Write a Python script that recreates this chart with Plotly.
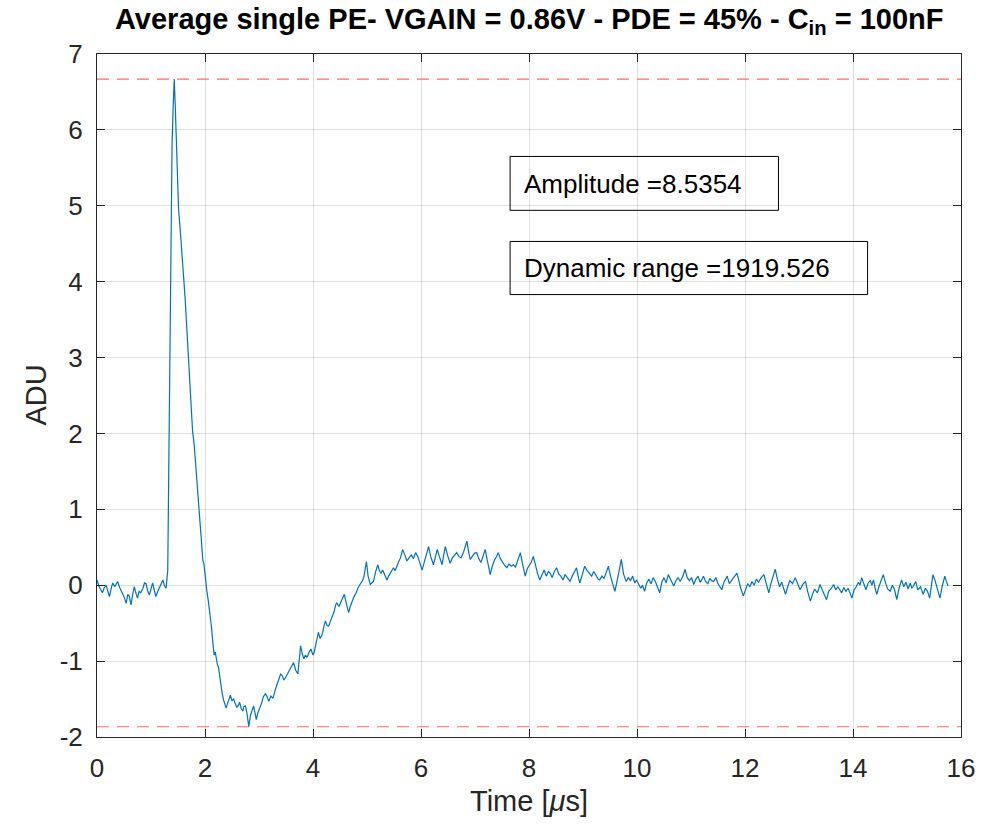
import plotly.graph_objects as go

# Time axis (microseconds) and averaged single-PE waveform (ADU)
time_us = [
    0.00, 0.02, 0.04, 0.07, 0.10, 0.13, 0.17, 0.20, 0.23, 0.26, 0.29, 0.33, 0.38, 0.42, 0.47, 0.51, 0.54, 0.57, 0.60, 0.63,
    0.66, 0.69, 0.72, 0.75, 0.78, 0.81, 0.85, 0.88, 0.91, 0.94, 0.97, 1.00, 1.03, 1.06, 1.09, 1.12, 1.15, 1.19, 1.22, 1.25,
    1.28, 1.31, 1.33, 1.35, 1.37, 1.39, 1.41, 1.43, 1.45, 1.47, 1.49, 1.51, 1.55, 1.585, 1.61, 1.635, 1.66, 1.68, 1.71, 1.74,
    1.77, 1.80, 1.82, 1.85, 1.88, 1.90, 1.92, 1.94, 1.96, 1.98, 2.00, 2.03, 2.06, 2.08, 2.10, 2.12, 2.14, 2.17, 2.19, 2.21,
    2.23, 2.25, 2.27, 2.29, 2.31, 2.34, 2.37, 2.39, 2.42, 2.45, 2.47, 2.50, 2.53, 2.56, 2.59, 2.62, 2.64, 2.67, 2.70, 2.72,
    2.75, 2.78, 2.81, 2.84, 2.87, 2.90, 2.93, 2.95, 2.98, 3.02, 3.05, 3.08, 3.12, 3.15, 3.18, 3.22, 3.26, 3.30, 3.33, 3.36,
    3.40, 3.43, 3.46, 3.49, 3.53, 3.57, 3.60, 3.64, 3.68, 3.72, 3.75, 3.77, 3.80, 3.83, 3.86, 3.89, 3.93, 3.96, 4.00, 4.02,
    4.06, 4.10, 4.13, 4.17, 4.20, 4.23, 4.26, 4.29, 4.32, 4.35, 4.39, 4.42, 4.44, 4.48, 4.52, 4.55, 4.58, 4.62, 4.66, 4.69,
    4.72, 4.76, 4.80, 4.83, 4.87, 4.91, 4.94, 4.97, 4.99, 5.02, 5.06, 5.09, 5.12, 5.16, 5.20, 5.23, 5.26, 5.29, 5.32, 5.35,
    5.37, 5.40, 5.43, 5.46, 5.49, 5.52, 5.55, 5.58, 5.62, 5.66, 5.70, 5.74, 5.78, 5.82, 5.86, 5.90, 5.94, 5.98, 6.02, 6.06,
    6.10, 6.14, 6.18, 6.23, 6.27, 6.30, 6.34, 6.39, 6.42, 6.45, 6.49, 6.54, 6.58, 6.62, 6.66, 6.70, 6.74, 6.78, 6.82, 6.85,
    6.88, 6.91, 6.95, 6.99, 7.03, 7.07, 7.11, 7.15, 7.19, 7.23, 7.28, 7.32, 7.36, 7.40, 7.43, 7.47, 7.51, 7.55, 7.59, 7.63,
    7.67, 7.71, 7.75, 7.80, 7.84, 7.88, 7.93, 7.97, 8.01, 8.04, 8.08, 8.12, 8.16, 8.20, 8.24, 8.28, 8.32, 8.36, 8.39, 8.43,
    8.47, 8.51, 8.55, 8.59, 8.63, 8.67, 8.71, 8.76, 8.80, 8.84, 8.88, 8.91, 8.94, 8.98, 9.03, 9.07, 9.11, 9.16, 9.20, 9.24,
    9.28, 9.31, 9.35, 9.39, 9.43, 9.47, 9.51, 9.55, 9.59, 9.63, 9.67, 9.71, 9.75, 9.80, 9.84, 9.88, 9.92, 9.96, 9.99, 10.03,
    10.07, 10.10, 10.14, 10.18, 10.22, 10.26, 10.30, 10.34, 10.38, 10.42, 10.46, 10.50, 10.54, 10.58, 10.62, 10.65, 10.68, 10.72, 10.76, 10.80,
    10.85, 10.89, 10.93, 10.97, 11.01, 11.05, 11.09, 11.13, 11.17, 11.20, 11.23, 11.27, 11.31, 11.35, 11.38, 11.42, 11.46, 11.50, 11.54, 11.57,
    11.61, 11.64, 11.67, 11.71, 11.75, 11.79, 11.82, 11.85, 11.88, 11.92, 11.97, 12.01, 12.05, 12.09, 12.13, 12.17, 12.21, 12.25, 12.30, 12.35,
    12.39, 12.44, 12.48, 12.52, 12.56, 12.60, 12.64, 12.68, 12.72, 12.75, 12.79, 12.83, 12.88, 12.93, 12.97, 13.02, 13.07, 13.12, 13.16, 13.21,
    13.25, 13.29, 13.34, 13.39, 13.43, 13.47, 13.51, 13.55, 13.60, 13.64, 13.68, 13.72, 13.76, 13.79, 13.83, 13.87, 13.91, 13.95, 13.98, 14.02,
    14.06, 14.10, 14.13, 14.16, 14.20, 14.24, 14.28, 14.32, 14.35, 14.38, 14.41, 14.44, 14.48, 14.52, 14.56, 14.60, 14.64, 14.69, 14.73, 14.77,
    14.81, 14.85, 14.90, 14.94, 14.98, 15.02, 15.06, 15.09, 15.12, 15.16, 15.20, 15.25, 15.30, 15.34, 15.38, 15.42, 15.45, 15.48, 15.52, 15.56,
    15.61, 15.65, 15.70, 15.73, 15.76,
]

adu = [
    0.07, 0.02, -0.02, -0.06, -0.10, -0.04, 0.00, -0.08, -0.15, -0.05, 0.03, -0.02, 0.05, -0.03, -0.10, -0.17, -0.24, -0.12, -0.15, -0.26,
    -0.12, -0.02, -0.10, -0.17, -0.08, -0.10, -0.04, 0.03, 0.02, -0.08, -0.13, -0.05, 0.03, -0.06, -0.15, -0.09, -0.04, 0.02, 0.07, -0.01,
    -0.04, 0.19, 1.60, 3.20, 4.60, 5.80, 6.30, 6.67, 6.30, 5.90, 5.40, 4.96, 4.60, 4.31, 4.00, 3.74, 3.45, 3.17, 2.80, 2.38,
    2.03, 1.85, 1.65, 1.41, 1.10, 0.89, 0.65, 0.45, 0.33, 0.28, 0.12, -0.05, -0.20, -0.30, -0.38, -0.55, -0.72, -0.92, -0.88, -1.00,
    -1.05, -1.08, -1.20, -1.30, -1.39, -1.50, -1.58, -1.62, -1.55, -1.48, -1.45, -1.52, -1.50, -1.56, -1.61, -1.58, -1.54, -1.62, -1.66, -1.60,
    -1.59, -1.70, -1.865, -1.72, -1.64, -1.59, -1.70, -1.77, -1.68, -1.61, -1.55, -1.47, -1.43, -1.47, -1.53, -1.46, -1.49, -1.38, -1.32, -1.27,
    -1.17, -1.19, -1.25, -1.22, -1.16, -1.12, -1.07, -1.02, -1.12, -1.17, -0.95, -0.80, -0.90, -0.97, -0.92, -0.95, -0.88, -0.84, -0.92, -0.89,
    -0.75, -0.62, -0.70, -0.65, -0.55, -0.47, -0.53, -0.54, -0.48, -0.43, -0.35, -0.26, -0.23, -0.28, -0.21, -0.16, -0.12, -0.25, -0.36, -0.28,
    -0.21, -0.15, -0.10, -0.04, 0.01, 0.05, 0.10, 0.22, 0.31, 0.12, 0.01, 0.03, 0.05, 0.18, 0.27, 0.19, 0.16, 0.20, 0.15, 0.10,
    0.07, 0.12, 0.16, 0.20, 0.23, 0.19, 0.26, 0.30, 0.36, 0.47, 0.40, 0.32, 0.36, 0.40, 0.35, 0.43, 0.38, 0.28, 0.20, 0.30,
    0.42, 0.51, 0.38, 0.27, 0.38, 0.47, 0.38, 0.27, 0.40, 0.51, 0.40, 0.29, 0.36, 0.40, 0.43, 0.38, 0.36, 0.42, 0.50, 0.58,
    0.45, 0.34, 0.38, 0.42, 0.43, 0.35, 0.30, 0.40, 0.47, 0.32, 0.14, 0.25, 0.33, 0.38, 0.43, 0.35, 0.30, 0.26, 0.23, 0.28,
    0.25, 0.27, 0.24, 0.35, 0.43, 0.28, 0.12, 0.22, 0.27, 0.30, 0.38, 0.25, 0.15, 0.07, 0.14, 0.20, 0.12, 0.18, 0.16, 0.10,
    0.18, 0.23, 0.15, 0.12, 0.07, 0.14, 0.10, 0.05, 0.12, 0.18, 0.23, 0.12, 0.03, 0.12, 0.25, 0.20, 0.16, 0.12, 0.18, 0.13,
    0.08, 0.07, 0.12, 0.09, 0.17, 0.25, 0.12, 0.02, -0.08, 0.05, 0.18, 0.34, 0.15, 0.05, 0.10, 0.06, 0.12, 0.03, 0.07, 0.02,
    -0.04, 0.00, -0.08, 0.03, 0.08, 0.02, 0.10, 0.05, -0.02, -0.10, 0.04, 0.10, 0.03, 0.14, 0.08, 0.03, -0.01, 0.06, 0.10, 0.05,
    0.12, 0.21, 0.10, 0.06, 0.10, 0.01, 0.08, 0.12, 0.04, 0.07, 0.12, 0.05, 0.02, 0.09, 0.06, 0.05, 0.10, 0.02, -0.03, -0.06,
    0.04, 0.09, 0.12, 0.02, 0.06, 0.10, 0.13, 0.16, 0.08, -0.04, -0.14, -0.05, 0.02, -0.02, 0.05, 0.00, 0.08, 0.04, 0.10, 0.14,
    0.02, -0.10, 0.02, 0.12, 0.21, 0.08, -0.02, 0.04, -0.05, -0.12, -0.02, 0.06, 0.02, 0.10, 0.03, -0.06, 0.01, 0.05, -0.08, -0.21,
    -0.12, -0.05, -0.10, 0.01, -0.06, -0.12, -0.19, -0.08, -0.04, 0.01, -0.06, -0.02, -0.06, -0.10, -0.03, -0.08, -0.04, -0.12, -0.17, -0.06,
    -0.02, 0.04, 0.00, 0.10, 0.02, -0.06, 0.03, 0.06, 0.00, 0.07, -0.04, -0.12, -0.02, 0.06, 0.14, 0.04, -0.05, -0.08, 0.00, -0.06,
    -0.19, -0.05, 0.07, -0.02, 0.04, -0.05, 0.03, -0.04, -0.01, 0.05, -0.06, -0.02, -0.12, -0.04, -0.08, -0.17, -0.02, 0.14, 0.06, -0.04,
    -0.17, -0.02, 0.12, 0.05, -0.01,
]

x_range = [0, 16]
y_range = [-2, 7]
x_ticks = [0, 2, 4, 6, 8, 10, 12, 14, 16]
y_ticks = [-2, -1, 0, 1, 2, 3, 4, 5, 6, 7]
x_tick_labels = ["0", "2", "4", "6", "8", "10", "12", "14", "16"]
y_tick_labels = ["-2", "-1", "0", "1", "2", "3", "4", "5", "6", "7"]

title_text = "<b>Average single PE- VGAIN = 0.86V - PDE = 45% - C<sub>in</sub> = 100nF</b>"
amp_text = "Amplitude =8.5354"
dr_text = "Dynamic range =1919.526"

peak = max(adu)
trough = min(adu)

FONT = "Liberation Sans, Arial, sans-serif"
AX = "#262626"

fig = go.Figure()
fig.add_trace(go.Scatter(x=time_us, y=adu, mode="lines",
                         line=dict(color="#0072BD", width=1.2), showlegend=False))
for lvl in (peak, trough):
    fig.add_trace(go.Scatter(x=x_range, y=[lvl, lvl], mode="lines",
                             line=dict(color="rgba(255,60,60,0.75)", width=1.2, dash="12px,8px"),
                             showlegend=False))

axis_common = dict(showline=True, linecolor=AX, linewidth=1, mirror="allticks",
                   ticks="inside", ticklen=8, tickcolor=AX, tickwidth=1,
                   showgrid=True, gridcolor="rgba(38,38,38,0.15)", gridwidth=1,
                   zeroline=False, tickfont=dict(family=FONT, size=26, color=AX))

fig.update_xaxes(range=x_range, tickvals=x_ticks, ticktext=x_tick_labels,
                 ticklabelstandoff=8, **axis_common)
fig.update_yaxes(range=y_range, tickvals=y_ticks, ticktext=y_tick_labels,
                 ticklabelstandoff=8, **axis_common)

fig.add_shape(type="rect", xref="x", yref="y", x0=7.65, x1=12.62, y0=4.94, y1=5.65,
              line=dict(color="black", width=1))
fig.add_shape(type="rect", xref="x", yref="y", x0=7.65, x1=14.27, y0=3.83, y1=4.53,
              line=dict(color="black", width=1))

annotations = [
    dict(text=amp_text, x=7.87, y=5.29, xref="x", yref="y", xanchor="left", yanchor="middle",
         showarrow=False, font=dict(family=FONT, size=26, color="black")),
    dict(text=dr_text, x=7.87, y=4.18, xref="x", yref="y", xanchor="left", yanchor="middle",
         showarrow=False, font=dict(family=FONT, size=26, color="black")),
    dict(text=title_text, x=0.5, y=1, xref="paper", yref="paper", xanchor="center", yanchor="middle",
         yshift=33, showarrow=False, font=dict(family=FONT, size=29, color="black")),
    dict(text="Time [<i>μ</i>s]", x=0.5, y=0, xref="paper", yref="paper", xanchor="center", yanchor="middle",
         yshift=-64, showarrow=False, font=dict(family=FONT, size=29, color=AX)),
    dict(text="ADU", x=0, y=0.5, xref="paper", yref="paper", xanchor="center", yanchor="middle",
         xshift=-62, textangle=-90, showarrow=False, font=dict(family=FONT, size=29, color=AX)),
]

fig.update_layout(
    width=1002, height=825,
    margin=dict(l=97, r=41, t=54, b=88),
    paper_bgcolor="white", plot_bgcolor="white",
    annotations=annotations,
    showlegend=False,
)

fig.write_html("out.html")
